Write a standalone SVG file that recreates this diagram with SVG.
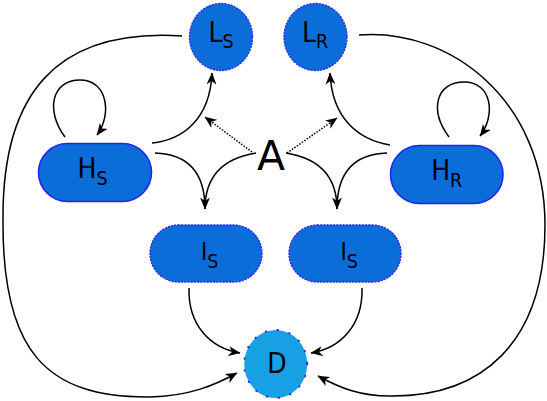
<svg xmlns="http://www.w3.org/2000/svg" width="547" height="401" viewBox="0 0 547 401">
<style>
.bg{fill:#ffffff}
.node{fill:#0b6ed8}
.solid{stroke:#2222f5;stroke-width:1.6}
.dot{stroke:#2a2af5;stroke-width:1.4;stroke-dasharray:1.2 2;stroke-linecap:round}
.dnode{fill:#17a0e4;stroke:#2a2af5;stroke-width:2;stroke-dasharray:0.5 11.5;stroke-linecap:round}
.lbl{font-family:"DejaVu Sans Condensed","DejaVu Sans",sans-serif;font-size:28px;fill:#000;text-anchor:middle}
.sub{font-size:19.5px}
.e{fill:none;stroke:#000;stroke-width:1.5}
.ed{fill:none;stroke:#000;stroke-width:1.5;stroke-dasharray:1.5 1.5}
</style>
<defs>
<marker id="ah" viewBox="0 0 12 10" markerWidth="12" markerHeight="10" refX="11.5" refY="5" orient="auto" markerUnits="userSpaceOnUse">
<path d="M0,0 L12,5 L0,10 L3.5,5 z" fill="#000"/>
</marker>
</defs>
<rect class="bg" x="0" y="0" width="547" height="401"/>
<g id="connectors">
<path class="e" d="M65,137 C45,110 52,80 80,80 C108,80 112,115 97,135" marker-end="url(#ah)"/>
<path class="e" d="M449,137 C429,110 436,82 464,82 C492,82 496,115 480,136" marker-end="url(#ah)"/>
<path class="e" d="M152,143 C182,140 210,120 212,73" marker-end="url(#ah)"/>
<path class="e" d="M390,145 C360,140 332,120 330,73" marker-end="url(#ah)"/>
<path class="e" d="M155,153 C185,154 205,170 205,209"/>
<path class="e" d="M256,153 C225,158 205,175 205,209" marker-end="url(#ah)"/>
<path class="e" d="M387,153 C357,154 337,170 337,209"/>
<path class="e" d="M286,153 C317,158 337,175 337,209" marker-end="url(#ah)"/>
<path class="ed" d="M252,152 L205,117" marker-end="url(#ah)"/>
<path class="ed" d="M287,153 L337,118" marker-end="url(#ah)"/>
<path class="e" d="M189,288 C188,325 210,348 240,353" marker-end="url(#ah)"/>
<path class="e" d="M362,288 C363,325 341,348 311,353" marker-end="url(#ah)"/>
<path class="e" d="M182,36 C55,28 2,95 3,220 C2,350 45,398 150,397 C190,396 215,385 237,373" marker-end="url(#ah)"/>
<path class="e" d="M359,35 C450,28 545,100 545,225 C545,345 480,397 390,396 C360,396 340,388 318,376" marker-end="url(#ah)"/>
</g>
<g id="node-LS">
<ellipse class="node" cx="221" cy="37" rx="31.5" ry="33.5"/>
<ellipse class="dot" cx="221" cy="37" rx="31.5" ry="33.5" fill="none"/>
<text class="lbl" x="221" y="41.7">L<tspan class="sub" dy="6.6">S</tspan></text>
</g>
<g id="node-LR">
<ellipse class="node" cx="315.5" cy="37" rx="31.5" ry="33.5"/>
<ellipse class="dot" cx="315.5" cy="37" rx="31.5" ry="33.5" fill="none"/>
<text class="lbl" x="315" y="41.7">L<tspan class="sub" dy="6.6">R</tspan></text>
</g>
<g id="node-HS">
<rect class="node solid" x="38.5" y="143.5" width="113" height="58" rx="29" ry="29"/>
<text class="lbl" x="92.5" y="178.3">H<tspan class="sub" dy="6.7">S</tspan></text>
</g>
<g id="node-HR">
<rect class="node solid" x="390.5" y="145.5" width="112.5" height="58" rx="29" ry="29"/>
<text class="lbl" x="446.7" y="180">H<tspan class="sub" dy="6.7">R</tspan></text>
</g>
<g id="node-A">
<text x="271" y="170" style="font-family:'DejaVu Sans',sans-serif;font-size:41px;text-anchor:middle;fill:#000">A</text>
</g>
<g id="node-IS1">
<rect class="node" x="150" y="225" width="112" height="57" rx="28.5" ry="28.5"/>
<rect class="dot" x="150" y="225" width="112" height="57" rx="28.5" ry="28.5" fill="none"/>
<text class="lbl" x="209.7" y="260" style="font-size:24px">I<tspan class="sub" dy="8">S</tspan></text>
</g>
<g id="node-IS2">
<rect class="node" x="289" y="225" width="112" height="57" rx="28.5" ry="28.5"/>
<rect class="dot" x="289" y="225" width="112" height="57" rx="28.5" ry="28.5" fill="none"/>
<text class="lbl" x="349.2" y="260" style="font-size:24px">I<tspan class="sub" dy="8">S</tspan></text>
</g>
<g id="node-D">
<ellipse class="dnode" cx="275.7" cy="364" rx="31.5" ry="34"/>
<text class="lbl" x="277" y="373.3">D</text>
</g>
</svg>
